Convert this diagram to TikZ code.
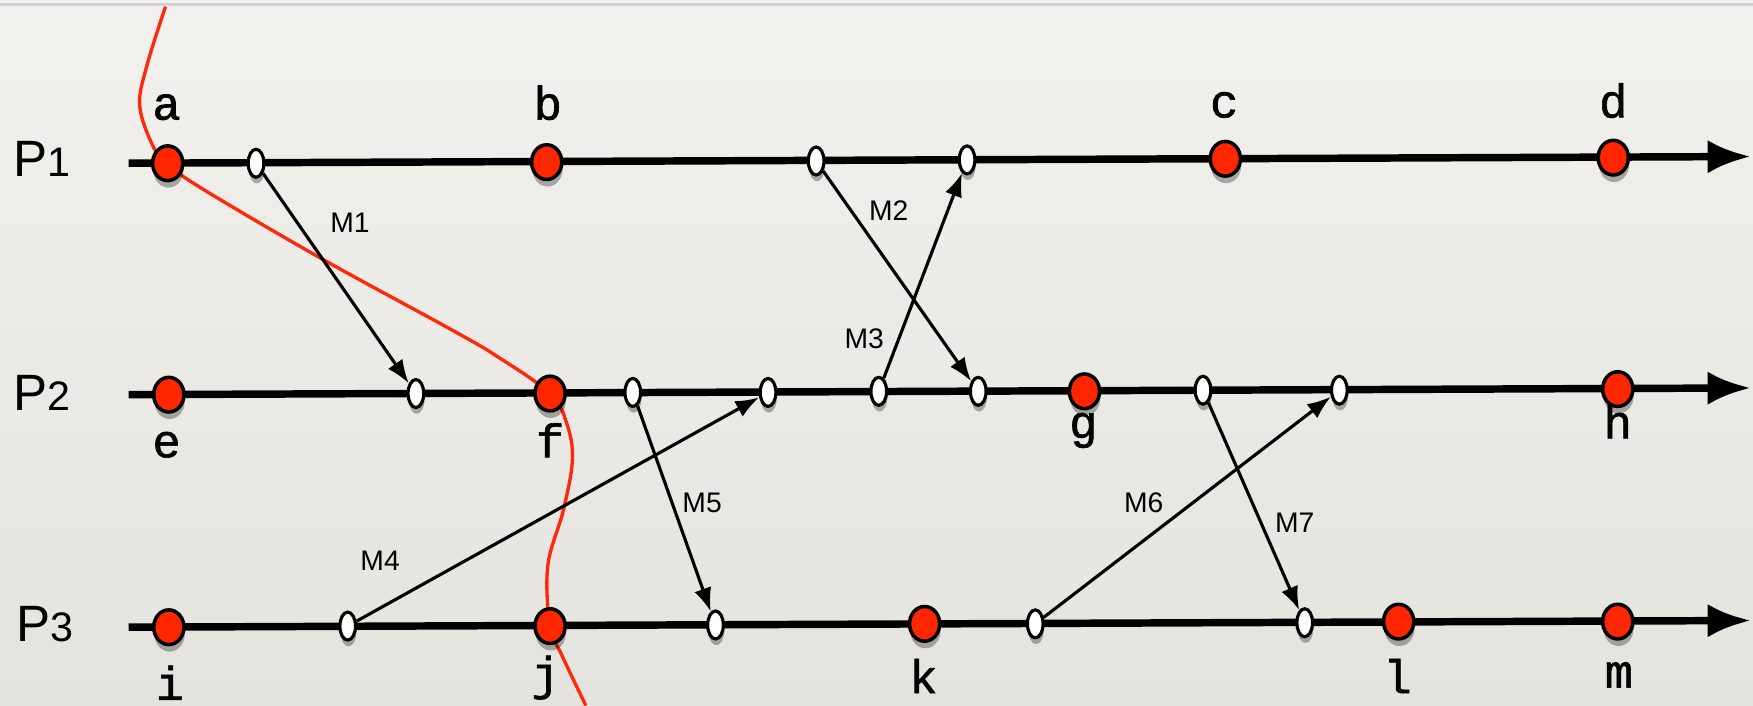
\documentclass[tikz,border=0pt]{standalone}
\usepackage{fontspec}
\setmainfont{Liberation Sans}
\newfontfamily\evfont[FakeBold=1.3]{Liberation Mono}
\usetikzlibrary{arrows.meta,shapes.geometric,shadows}

\definecolor{evred}{RGB}{255,38,0}
\definecolor{cutred}{RGB}{255,40,10}
\definecolor{papertop}{RGB}{243,241,237}
\definecolor{paperbot}{RGB}{229,227,222}

\pgfdeclarelayer{back}
\pgfdeclarelayer{cut}
\pgfsetlayers{back,cut,main}

\tikzset{
  proc/.style={line width=1.9pt,-{Latex[length=11pt,width=8.5pt]}},
  ev/.style={ellipse,draw=black,line width=0.9pt,fill=evred,inner sep=0pt,
    minimum width=0.27cm,minimum height=0.31cm,
    drop shadow={shadow xshift=0.2pt,shadow yshift=-1.8pt,opacity=0.3,fill=black}},
  port/.style={ellipse,draw=black,line width=0.8pt,fill=white,inner sep=0pt,
    minimum width=0.14cm,minimum height=0.25cm,
    drop shadow={shadow xshift=0.2pt,shadow yshift=-1.6pt,opacity=0.3,fill=black}},
  msg/.style={line width=0.8pt,-{Latex[length=6pt,width=4.5pt]}},
  evname/.style={font={\evfont\fontsize{12}{13}\selectfont},anchor=base,inner sep=0pt},
  msgname/.style={font={\fontsize{7.2}{8}\selectfont},inner sep=0pt},
  procname/.style={font={\fontsize{13}{15}\selectfont},anchor=base west,inner sep=0pt},
  cutline/.style={draw=cutred,line width=0.85pt}
}

\begin{document}
\begin{tikzpicture}[x=1cm,y=1cm]
\useasboundingbox (0,0) rectangle (15.68,6.31);
\begin{pgfonlayer}{back}
\shade[top color=papertop,bottom color=paperbot] (0,0) rectangle (15.68,6.31);
\draw[black!18,line width=0.6pt] (0,6.27) -- (15.68,6.27);
\end{pgfonlayer}

% processes
\node[procname] (p1) at (0.11,4.73) {P{\fontsize{10.5}{12}\selectfont 1}};
\node[procname] (p2) at (0.11,2.64) {P{\fontsize{10.5}{12}\selectfont 2}};
\node[procname] (p3) at (0.14,0.57) {P{\fontsize{10.5}{12}\selectfont 3}};

\coordinate (p1w) at (1.15,4.85);
\coordinate (p1e) at (15.66,4.91);
\coordinate (p2w) at (1.15,2.78);
\coordinate (p2e) at (15.66,2.84);
\coordinate (p3w) at (1.15,0.70);
\coordinate (p3e) at (15.66,0.76);

\draw[proc] (p1w) -- (p1e);
\draw[proc] (p2w) -- (p2e);
\draw[proc] (p3w) -- (p3e);

% P1
\node[ev] (a) at (1.50,4.85) {};
\node[port] (s1) at (2.29,4.85) {};
\node[ev] (b) at (4.89,4.86) {};
\node[port] (s2) at (7.30,4.87) {};
\node[port] (r3) at (8.65,4.88) {};
\node[ev] (c) at (10.96,4.89) {};
\node[ev] (d) at (14.43,4.90) {};

% P2
\node[ev] (e) at (1.51,2.78) {};
\node[port] (r1) at (3.72,2.79) {};
\node[ev] (f) at (4.92,2.79) {};
\node[port] (s5) at (5.66,2.80) {};
\node[port] (r4) at (6.87,2.80) {};
\node[port] (s3) at (7.86,2.81) {};
\node[port] (r2) at (8.75,2.81) {};
\node[ev] (g) at (9.70,2.81) {};
\node[port] (s7) at (10.76,2.82) {};
\node[port] (r6) at (11.98,2.82) {};
\node[ev] (h) at (14.47,2.83) {};

% P3
\node[ev] (i) at (1.51,0.70) {};
\node[port] (s4) at (3.11,0.71) {};
\node[ev] (j) at (4.92,0.71) {};
\node[port] (r5) at (6.40,0.72) {};
\node[ev] (k) at (8.27,0.73) {};
\node[port] (s6) at (9.26,0.73) {};
\node[port] (r7) at (11.67,0.74) {};
\node[ev] (l) at (12.51,0.75) {};
\node[ev] (m) at (14.47,0.75) {};

% event names
\node[evname] (la) at (1.49,5.24) {a};
\node[evname] (lb) at (4.90,5.24) {b};
\node[evname] (lc) at (10.95,5.26) {c};
\node[evname] (ld) at (14.43,5.26) {d};
\node[evname] (le) at (1.49,2.22) {e};
\node[evname] (lf) at (4.92,2.22) {f};
\node[evname] (lg) at (9.69,2.39) {g};
\node[evname] (lh) at (14.47,2.39) {h};
\node[evname] (li) at (1.52,0.05) {i};
\node[evname] (lj) at (4.88,0.14) {j};
\node[evname] (lk) at (8.26,0.11) {k};
\node[evname] (ll) at (12.50,0.11) {l};
\node[evname] (lm) at (14.48,0.16) {m};

% messages
\draw[msg] (s1) -- (r1);
\draw[msg] (s2) -- (r2);
\draw[msg] (s3) -- (r3);
\draw[msg] (s4) -- (r4);
\draw[msg] (s5) -- (r5);
\draw[msg] (s6) -- (r6);
\draw[msg] (s7) -- (r7);

\node[msgname] (m1) at (3.13,4.32) {M1};
\node[msgname] (m2) at (7.95,4.43) {M2};
\node[msgname] (m3) at (7.73,3.28) {M3};
\node[msgname] (m4) at (3.40,1.29) {M4};
\node[msgname] (m5) at (6.28,1.81) {M5};
\node[msgname] (m6) at (10.23,1.81) {M6};
\node[msgname] (m7) at (11.58,1.63) {M7};

% cut
\begin{pgfonlayer}{cut}
\draw[cutline] plot[smooth,tension=0.6] coordinates {(1.48,6.25) (1.31,5.71) (1.25,5.36)
  (1.37,5.00) (a.center) (1.78,4.64) (2.87,4.00) (4.04,3.36) (4.45,3.12) (f.center)
  (5.07,2.52) (5.12,2.20) (5.04,1.75) (4.90,1.25) (j.center) (5.03,0.44) (5.24,0.00)};
\end{pgfonlayer}
\end{tikzpicture}
\end{document}
